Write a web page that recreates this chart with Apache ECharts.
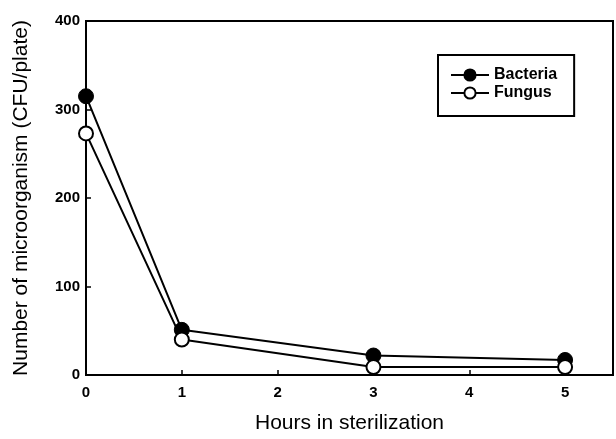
<!DOCTYPE html>
<html>
<head>
<meta charset="utf-8">
<script src="https://cdn.jsdelivr.net/npm/echarts@6/dist/echarts.min.js"></script>
<style>
  html, body { margin: 0; padding: 0; background: #fff; }
  #main { width: 616px; height: 439px; }
</style>
</head>
<body>
<div id="main"></div>
<script>
// 灭菌时间 (h)
var hours = [0, 1, 3, 5];
var bacteria = [315, 51, 22, 17];
var fungus = [273, 40, 9, 9];

var chart = echarts.init(document.getElementById('main'));

function pairs(xs, ys) {
  return xs.map(function (x, i) { return [x, ys[i]]; });
}

var font = 'Liberation Sans, Arial, sans-serif';

var option = {
  animation: false,
  backgroundColor: '#fff',
  grid: {
    left: 86,
    right: 3,
    top: 21,
    bottom: 64,
    show: true,
    borderColor: '#000',
    borderWidth: 2
  },
  legend: {
    orient: 'vertical',
    left: 438,
    top: 55,
    padding: [12, 17, 15, 12],
    itemGap: 2,
    itemWidth: 38,
    itemHeight: 14,
    borderColor: '#000',
    borderWidth: 2,
    backgroundColor: '#fff',
    textStyle: { fontFamily: font, fontSize: 16, fontWeight: 'bold', color: '#000' },
    data: ['Bacteria', 'Fungus']
  },
  xAxis: {
    type: 'value',
    min: 0,
    max: 5.5,
    interval: 1,
    name: 'Hours in sterilization',
    nameLocation: 'middle',
    nameGap: 38,
    nameTextStyle: { fontFamily: font, fontSize: 21, color: '#000' },
    axisLine: { lineStyle: { color: '#000', width: 2 } },
    axisTick: { inside: true, length: 5, lineStyle: { color: '#000', width: 1.5 } },
    axisLabel: { fontFamily: font, fontSize: 15, fontWeight: 'bold', color: '#000', margin: 10, showMaxLabel: false },
    splitLine: { show: false }
  },
  yAxis: {
    type: 'value',
    min: 0,
    max: 400,
    interval: 100,
    name: 'Number of microorganism (CFU/plate)',
    nameLocation: 'middle',
    nameGap: 54,
    nameTextStyle: { fontFamily: font, fontSize: 21, color: '#000' },
    axisLine: { show: true, lineStyle: { color: '#000', width: 2 } },
    axisTick: { show: true, inside: true, length: 5, lineStyle: { color: '#000', width: 1.5 } },
    axisLabel: { fontFamily: font, fontSize: 15, fontWeight: 'bold', color: '#000', margin: 6 },
    splitLine: { show: false }
  },
  series: [
    {
      name: 'Fungus',
      type: 'line',
      data: pairs(hours, fungus),
      symbol: 'circle',
      symbolSize: 14,
      lineStyle: { color: '#000', width: 2 },
      itemStyle: { color: '#fff', borderColor: '#000', borderWidth: 2 },
      z: 3
    },
    {
      name: 'Bacteria',
      type: 'line',
      data: pairs(hours, bacteria),
      symbol: 'circle',
      symbolSize: 15,
      lineStyle: { color: '#000', width: 2 },
      itemStyle: { color: '#000', borderColor: '#000', borderWidth: 1 },
      z: 2
    }
  ]
};

chart.setOption(option);
</script>
</body>
</html>
